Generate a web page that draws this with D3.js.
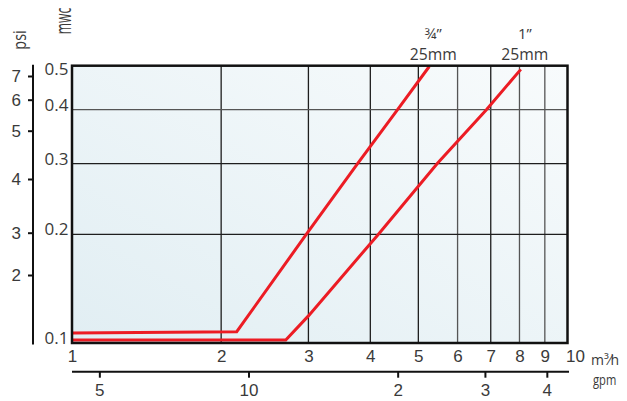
<!DOCTYPE html>
<html>
<head>
<meta charset="utf-8">
<script src="https://cdn.jsdelivr.net/npm/d3@7"></script>
<style>
  body { margin: 0; background: #fff; }
  svg { display: block; font-family: "Open Sans", sans-serif; }
  text { fill: #3a3a3a; }
</style>
</head>
<body>
<svg id="chart" width="627" height="401"></svg>
<script>
// flow axis (m³/h), pressure axes (mwc, psi), second flow axis (gpm)
const flowTicks = [1, 2, 3, 4, 5, 6, 7, 8, 9, 10];
const mwcTicks = [0.1, 0.2, 0.3, 0.4, 0.5];
const psiTicks = [2, 3, 4, 5, 6, 7];
const gpmTicks = [5, 10, 20, 30, 40];
const gpmLabels = ["5", "10", "2", "3", "4"];

// pressure loss curves: [flow m³/h, mwc]
const valve34 = [[1, 0.107], [2.15, 0.108], [2.97, 0.2], [3.77, 0.3], [4.54, 0.4], [5.26, 0.498]];
const valve1 = [[1, 0.102], [2.7, 0.102], [3, 0.12], [4.15, 0.2], [5.46, 0.3], [6.86, 0.4], [8.05, 0.491]];
const seriesNames = ["¾”", "1”"];
const seriesSizes = ["25mm", "25mm"];

const M3H_PER_GPM = 0.2271;

const plot = { left: 72, right: 567.5, top: 65.7, bottom: 343 };

const svg = d3.select("#chart");

const x = d3.scaleLog().domain([1, 10]).range([plot.left, plot.right]);
// the printed pressure axis is compressed toward the top, a low power fits it
const y = d3.scalePow().exponent(0.2).domain([0.1, 0.5]).range([plot.bottom, plot.top]);
// psi scale on the original is hand spaced, so it is calibrated per tick
const psi = d3.scaleLog().domain(psiTicks).range([275, 232.7, 179, 130.7, 99.7, 76]);
const gpm = x.copy().domain(x.domain().map((d) => d / M3H_PER_GPM));

// background
const defs = svg.append("defs");
const grad = defs.append("linearGradient")
  .attr("id", "bg")
  .attr("x1", 0).attr("y1", 1).attr("x2", 1).attr("y2", 0);
grad.append("stop").attr("offset", 0).attr("stop-color", "#e1eef3");
grad.append("stop").attr("offset", 1).attr("stop-color", "#f8fbfc");

svg.append("rect")
  .attr("x", plot.left).attr("y", plot.top)
  .attr("width", plot.right - plot.left)
  .attr("height", plot.bottom - plot.top)
  .attr("fill", "url(#bg)");

// grid
const grid = svg.append("g").attr("stroke", "#1e1e1e").attr("stroke-width", 1.3);
grid.selectAll("line.v")
  .data(flowTicks.slice(1, -1))
  .join("line")
  .attr("class", "v")
  .attr("x1", (d) => x(d)).attr("x2", (d) => x(d))
  .attr("y1", plot.top).attr("y2", plot.bottom)
  .attr("stroke", (d) => (d === 6 || d >= 8 ? "#555" : null));
grid.selectAll("line.h")
  .data(mwcTicks.slice(1, -1))
  .join("line")
  .attr("class", "h")
  .attr("x1", plot.left).attr("x2", plot.right)
  .attr("y1", (d) => y(d)).attr("y2", (d) => y(d))
  .attr("stroke", (d) => (d === 0.4 ? "#555" : null));

// curves
const line = d3.line().x((d) => x(d[0])).y((d) => y(d[1]));
const curves = [valve34, valve1];
svg.append("g")
  .selectAll("path")
  .data(curves)
  .join("path")
  .attr("d", line)
  .attr("fill", "none")
  .attr("stroke", "#ec1c24")
  .attr("stroke-width", 3);

// frame
svg.append("rect")
  .attr("x", plot.left).attr("y", plot.top)
  .attr("width", plot.right - plot.left)
  .attr("height", plot.bottom - plot.top)
  .attr("fill", "none")
  .attr("stroke", "#111")
  .attr("stroke-width", 2.5);

// curve labels above the end of each line
const labels = svg.append("g").attr("text-anchor", "middle");
labels.selectAll("text.name")
  .data(curves)
  .join("text")
  .attr("class", "name")
  .attr("x", (d) => x(d[d.length - 1][0]) + 4)
  .attr("y", 38.5)
  .attr("font-size", 15)
  .text((d, i) => seriesNames[i]);
labels.selectAll("text.size")
  .data(curves)
  .join("text")
  .attr("class", "size")
  .attr("x", (d) => x(d[d.length - 1][0]) + 4)
  .attr("y", 60)
  .attr("font-size", 16)
  .attr("textLength", 47)
  .attr("lengthAdjust", "spacingAndGlyphs")
  .text((d, i) => seriesSizes[i]);

// m³/h labels
const xAxis = svg.append("g")
  .attr("transform", `translate(0,${plot.bottom})`)
  .call(d3.axisBottom(x).tickValues(flowTicks).tickFormat(d3.format("d")).tickSize(0).tickPadding(7))
  .call((g) => g.select(".domain").remove());
xAxis.selectAll("text")
  .attr("font-size", 17)
  .attr("font-family", null)
  .attr("fill", null);
xAxis.selectAll(".tick")
  .filter((d) => d === 10)
  .select("text")
  .attr("text-anchor", "start")
  .attr("x", -2);

svg.append("text")
  .attr("x", 591).attr("y", 365)
  .attr("font-size", 14)
  .text("m³⁄h");

// gpm axis
const gAxis = svg.append("g")
  .attr("transform", "translate(0,371.7)")
  .call(d3.axisBottom(gpm).tickValues(gpmTicks).tickFormat((d, i) => gpmLabels[i]).tickSize(6).tickSizeOuter(0).tickPadding(6));
gAxis.select(".domain").attr("stroke", "#111").attr("stroke-width", 2).attr("d", `M${plot.left},0H${plot.right + 1.5}`);
gAxis.selectAll(".tick line").attr("stroke", "#111").attr("stroke-width", 2);
gAxis.selectAll("text")
  .attr("font-size", 17)
  .attr("font-family", null)
  .attr("fill", null);

svg.append("text")
  .attr("transform", "translate(593,385) scale(0.8,1)")
  .attr("font-size", 14)
  .text("gpm");

// mwc labels, sitting on their grid lines
svg.append("g")
  .attr("text-anchor", "end")
  .attr("font-size", 17)
  .selectAll("text")
  .data(mwcTicks)
  .join("text")
  .attr("x", 68.5)
  .attr("y", (d) => Math.max(y(d) + 1, plot.top + 9))
  .text((d) => d);

// psi axis
const pAxis = svg.append("g")
  .attr("transform", "translate(33,0)")
  .call(d3.axisLeft(psi).tickValues(psiTicks).tickFormat(d3.format("d")).tickSize(5).tickPadding(7));
pAxis.select(".domain").attr("stroke", "#111").attr("stroke-width", 2).attr("d", `M0,${plot.top - 1}V${plot.bottom + 1.5}`);
pAxis.selectAll(".tick line").attr("stroke", "#111").attr("stroke-width", 2);
pAxis.selectAll("text")
  .attr("font-size", 17)
  .attr("font-family", null)
  .attr("fill", null);

// unit titles, condensed like the printed ones
svg.append("text")
  .attr("transform", "translate(26,40) rotate(-90) scale(0.8,1)")
  .attr("text-anchor", "middle")
  .attr("font-size", 18)
  .text("psi");
svg.append("text")
  .attr("transform", "translate(71,21) rotate(-90) scale(0.55,1)")
  .attr("text-anchor", "middle")
  .attr("font-size", 22)
  .text("mwc");
</script>
</body>
</html>
